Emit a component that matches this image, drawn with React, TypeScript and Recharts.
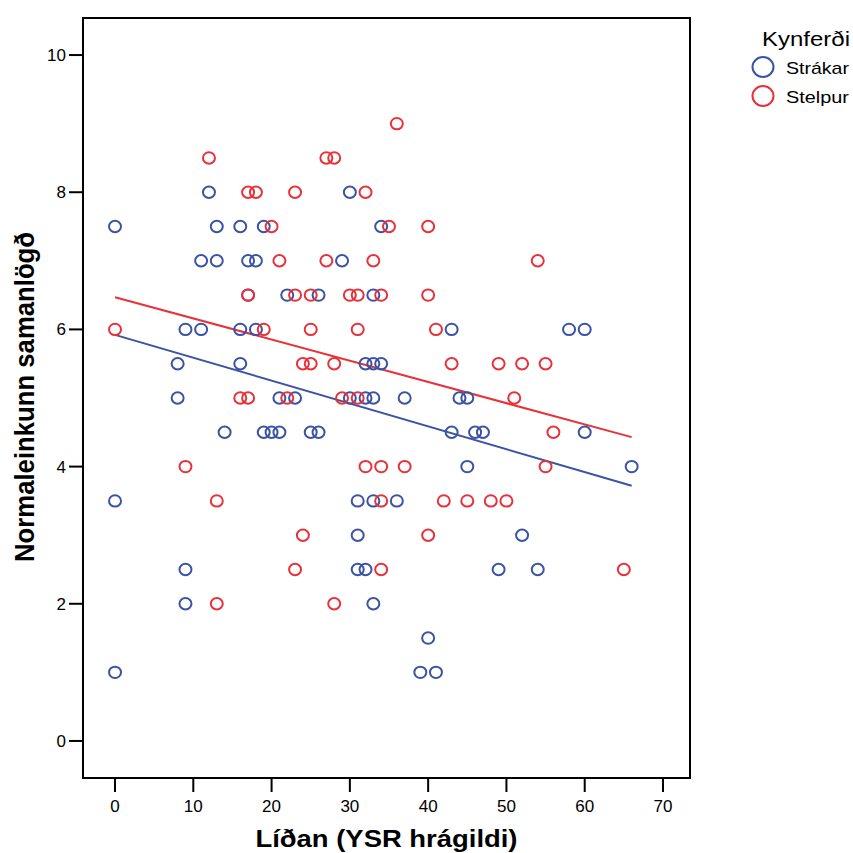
import React from 'react';
import {
  ScatterChart,
  Scatter,
  XAxis,
  YAxis,
  ReferenceLine,
  ReferenceArea,
  Legend,
  Label,
} from 'recharts';

// ---- Data ----
const strakar = [
  { x: 0, y: 7.5 }, { x: 0, y: 3.5 }, { x: 0, y: 1 },
  { x: 8, y: 5.5 }, { x: 8, y: 5 },
  { x: 9, y: 6 }, { x: 9, y: 2.5 }, { x: 9, y: 2 },
  { x: 11, y: 6 }, { x: 11, y: 7 },
  { x: 12, y: 8 },
  { x: 13, y: 7.5 }, { x: 13, y: 7 },
  { x: 14, y: 4.5 },
  { x: 16, y: 7.5 }, { x: 16, y: 6 }, { x: 16, y: 5.5 },
  { x: 17, y: 7 }, { x: 17, y: 6.5 },
  { x: 18, y: 7 }, { x: 18, y: 6 },
  { x: 19, y: 7.5 }, { x: 19, y: 4.5 },
  { x: 20, y: 4.5 },
  { x: 21, y: 5 }, { x: 21, y: 4.5 },
  { x: 22, y: 6.5 },
  { x: 23, y: 5 },
  { x: 25, y: 4.5 },
  { x: 26, y: 6.5 }, { x: 26, y: 4.5 },
  { x: 29, y: 7 },
  { x: 30, y: 8 }, { x: 30, y: 5 },
  { x: 31, y: 3.5 }, { x: 31, y: 3 }, { x: 31, y: 2.5 },
  { x: 32, y: 5.5 }, { x: 32, y: 5 }, { x: 32, y: 2.5 },
  { x: 33, y: 6.5 }, { x: 33, y: 5.5 }, { x: 33, y: 5 }, { x: 33, y: 3.5 }, { x: 33, y: 2 },
  { x: 34, y: 7.5 }, { x: 34, y: 5.5 },
  { x: 36, y: 3.5 },
  { x: 37, y: 5 },
  { x: 39, y: 1 },
  { x: 40, y: 1.5 },
  { x: 41, y: 1 },
  { x: 43, y: 6 }, { x: 43, y: 4.5 },
  { x: 44, y: 5 },
  { x: 45, y: 5 }, { x: 45, y: 4 },
  { x: 46, y: 4.5 }, { x: 47, y: 4.5 },
  { x: 49, y: 2.5 },
  { x: 52, y: 3 },
  { x: 54, y: 2.5 },
  { x: 58, y: 6 }, { x: 60, y: 6 },
  { x: 60, y: 4.5 },
  { x: 66, y: 4 },
];

const stelpur = [
  { x: 0, y: 6 },
  { x: 9, y: 4 },
  { x: 12, y: 8.5 },
  { x: 13, y: 3.5 }, { x: 13, y: 2 },
  { x: 16, y: 5 },
  { x: 17, y: 8 }, { x: 17, y: 6.5 }, { x: 17, y: 5 },
  { x: 18, y: 8 },
  { x: 19, y: 6 },
  { x: 20, y: 7.5 },
  { x: 21, y: 7 },
  { x: 22, y: 5 },
  { x: 23, y: 8 }, { x: 23, y: 6.5 }, { x: 23, y: 2.5 },
  { x: 24, y: 5.5 }, { x: 24, y: 3 },
  { x: 25, y: 6.5 }, { x: 25, y: 6 }, { x: 25, y: 5.5 },
  { x: 27, y: 8.5 }, { x: 27, y: 7 },
  { x: 28, y: 8.5 }, { x: 28, y: 5.5 }, { x: 28, y: 2 },
  { x: 29, y: 5 },
  { x: 30, y: 6.5 },
  { x: 31, y: 6.5 }, { x: 31, y: 6 }, { x: 31, y: 5 },
  { x: 32, y: 8 }, { x: 32, y: 4 },
  { x: 33, y: 7 },
  { x: 34, y: 6.5 }, { x: 34, y: 4 }, { x: 34, y: 3.5 }, { x: 34, y: 2.5 },
  { x: 35, y: 7.5 },
  { x: 36, y: 9 },
  { x: 37, y: 4 },
  { x: 40, y: 7.5 }, { x: 40, y: 6.5 }, { x: 40, y: 3 },
  { x: 41, y: 6 },
  { x: 42, y: 3.5 },
  { x: 43, y: 5.5 },
  { x: 45, y: 3.5 },
  { x: 48, y: 3.5 },
  { x: 49, y: 5.5 },
  { x: 50, y: 3.5 },
  { x: 51, y: 5 },
  { x: 52, y: 5.5 },
  { x: 54, y: 7 },
  { x: 55, y: 5.5 }, { x: 55, y: 4 },
  { x: 56, y: 4.5 },
  { x: 65, y: 2.5 },
];

const strakarFit = [{ x: 0, y: 5.92 }, { x: 66, y: 3.72 }];
const stelpurFit = [{ x: 0, y: 6.47 }, { x: 66, y: 4.43 }];

const xTicks = [0, 10, 20, 30, 40, 50, 60, 70];
const yTicks = [0, 2, 4, 6, 8, 10];
const xDomain = [-4.09, 73.45];
const yDomain = [-0.54, 10.54];

const seriesNames = ['Strákar', 'Stelpur'];
const legendTitle = 'Kynferði';
const xTitle = 'Líðan (YSR hrágildi)';
const yTitle = 'Normaleinkunn samanlögð';

const BLUE = '#3B53A4';
const RED = '#E8323A';
const FONT = '"Liberation Sans", Arial, Helvetica, sans-serif';

const ring = (color: string) => (props: any) => (
  <ellipse
    cx={props.cx}
    cy={props.cy}
    rx={6}
    ry={5.7}
    fill="none"
    stroke={color}
    strokeWidth={2}
  />
);

const LegendBox = () => (
  <svg width={100} height={95} style={{ overflow: 'visible' }}>
    <text x={9} y={26} fontFamily={FONT} fontSize={20} fill="#000" textLength={88} lengthAdjust="spacingAndGlyphs">
      {legendTitle}
    </text>
    <ellipse cx={10} cy={47} rx={10.5} ry={10} fill="none" stroke={BLUE} strokeWidth={2} />
    <text x={33} y={54} fontFamily={FONT} fontSize={17} fill="#000" textLength={63} lengthAdjust="spacingAndGlyphs">
      {seriesNames[0]}
    </text>
    <ellipse cx={10} cy={76} rx={10.5} ry={10} fill="none" stroke={RED} strokeWidth={2} />
    <text x={33} y={83} fontFamily={FONT} fontSize={17} fill="#000" textLength={63} lengthAdjust="spacingAndGlyphs">
      {seriesNames[1]}
    </text>
  </svg>
);

export default function App() {
  return (
    <div style={{ position: 'absolute', left: 0, top: 0, width: 853, height: 853, background: '#fff' }}>
      <ScatterChart width={853} height={853} margin={{ top: 18, right: 163, bottom: 0, left: 0 }}>
        <ReferenceArea
          x1={xDomain[0]}
          x2={xDomain[1]}
          y1={yDomain[0]}
          y2={yDomain[1]}
          fill="none"
          fillOpacity={0}
          stroke="#000"
          strokeWidth={2}
        />
        <XAxis
          type="number"
          dataKey="x"
          domain={xDomain}
          ticks={xTicks}
          allowDataOverflow
          height={75}
          tickSize={14}
          tickMargin={8}
          axisLine={{ stroke: '#000', strokeWidth: 2 }}
          tickLine={{ stroke: '#000', strokeWidth: 2 }}
          tick={{ fill: '#000', fontSize: 17, fontFamily: FONT }}
        >
          <Label
            content={() => (
              <text
                x={386.5}
                y={847}
                textAnchor="middle"
                fontFamily={FONT}
                fontWeight="bold"
                fontSize={23}
                fill="#000"
                textLength={262}
                lengthAdjust="spacingAndGlyphs"
              >
                {xTitle}
              </text>
            )}
          />
        </XAxis>
        <YAxis
          type="number"
          dataKey="y"
          domain={yDomain}
          ticks={yTicks}
          allowDataOverflow
          width={83}
          tickSize={14}
          tickMargin={3}
          axisLine={{ stroke: '#000', strokeWidth: 2 }}
          tickLine={{ stroke: '#000', strokeWidth: 2 }}
          tick={{ fill: '#000', fontSize: 17, fontFamily: FONT }}
        >
          <Label
            content={() => (
              <text
                transform="translate(34, 397) rotate(-90)"
                x={0}
                y={0}
                textAnchor="middle"
                fontFamily={FONT}
                fontWeight="bold"
                fontSize={27}
                fill="#000"
                textLength={330}
                lengthAdjust="spacingAndGlyphs"
              >
                {yTitle}
              </text>
            )}
          />
        </YAxis>
        <Scatter name={seriesNames[0]} data={strakar} fill={BLUE} shape={ring(BLUE)} isAnimationActive={false} />
        <Scatter name={seriesNames[1]} data={stelpur} fill={RED} shape={ring(RED)} isAnimationActive={false} />
        <ReferenceLine segment={strakarFit} stroke={BLUE} strokeWidth={2} />
        <ReferenceLine segment={stelpurFit} stroke={RED} strokeWidth={2} />
        <Legend
          layout="horizontal"
          align="center"
          verticalAlign="middle"
          content={LegendBox}
          wrapperStyle={{ position: 'absolute', left: 753, top: 20, width: 100, height: 95 }}
        />
      </ScatterChart>
    </div>
  );
}
